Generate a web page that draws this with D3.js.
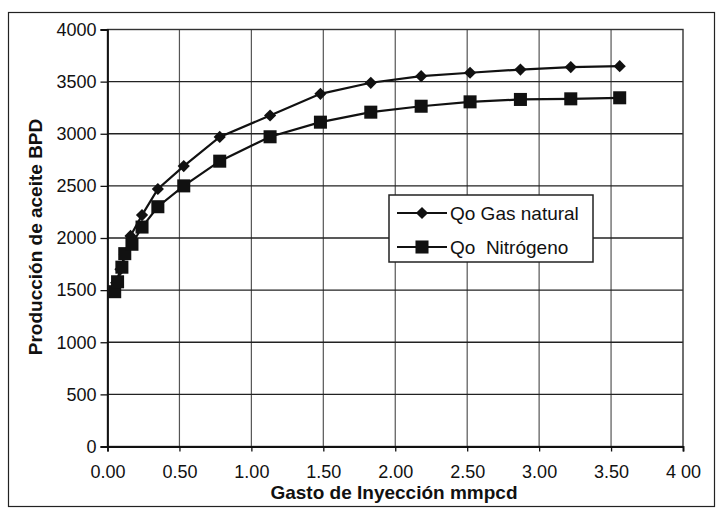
<!DOCTYPE html>
<html>
<head>
<meta charset="utf-8">
<script src="https://cdn.jsdelivr.net/npm/d3@7/dist/d3.min.js"></script>
<style>
  html, body { margin: 0; padding: 0; background: #fff; }
  svg { display: block; }
  text { font-family: "Liberation Sans", Arial, sans-serif; fill: #111; }
</style>
</head>
<body>
<svg id="chart" width="718" height="510"></svg>
<script>
// Injection rate (mmpcd) and oil production (BPD) for each lift gas
const gasX   = [0.06, 0.09, 0.12, 0.16, 0.24, 0.35, 0.53, 0.78, 1.13, 1.48, 1.83, 2.18, 2.52, 2.87, 3.22, 3.56];
const gasQo  = [1570, 1700, 1840, 2020, 2220, 2470, 2690, 2970, 3175, 3383, 3489, 3552, 3585, 3616, 3640, 3648];
const n2X    = [0.05, 0.07, 0.10, 0.12, 0.17, 0.24, 0.35, 0.53, 0.78, 1.13, 1.48, 1.83, 2.18, 2.52, 2.87, 3.22, 3.56];
const n2Qo   = [1485, 1580, 1720, 1850, 1940, 2105, 2300, 2500, 2737, 2971, 3111, 3207, 3264, 3306, 3329, 3335, 3345];
const xTicks = [0, 0.5, 1, 1.5, 2, 2.5, 3, 3.5, 4];
const xTickLabels = ["0.00", "0.50", "1.00", "1.50", "2.00", "2.50", "3.00", "3.50", "4 00"];
const yTicks = [0, 500, 1000, 1500, 2000, 2500, 3000, 3500, 4000];
const seriesNames = ["Qo Gas natural", "Qo  Nitrógeno"];

const svg = d3.select("#chart");
const plotL = 107.5, plotR = 683, plotT = 29.5, plotB = 446.5;

const x = d3.scaleLinear().domain([0, 4]).range([plotL, plotR]);
const y = d3.scaleLinear().domain([0, 4000]).range([plotB, plotT]);

// outer frame
svg.append("rect")
  .attr("x", 8.5).attr("y", 12.5).attr("width", 706).attr("height", 494)
  .attr("fill", "none").attr("stroke", "#222").attr("stroke-width", 1.2);

// gridlines
svg.append("g").selectAll("line").data(xTicks.slice(1, -1)).join("line")
  .attr("x1", d => x(d)).attr("x2", d => x(d))
  .attr("y1", plotT).attr("y2", plotB)
  .attr("stroke", "#555").attr("stroke-width", 1.2);
svg.append("g").selectAll("line").data(yTicks.slice(1, -1)).join("line")
  .attr("x1", plotL).attr("x2", plotR)
  .attr("y1", d => y(d)).attr("y2", d => y(d))
  .attr("stroke", "#222").attr("stroke-width", 1.4);

// plot border
svg.append("rect")
  .attr("x", plotL).attr("y", plotT).attr("width", plotR - plotL).attr("height", plotB - plotT)
  .attr("fill", "none").attr("stroke", "#333").attr("stroke-width", 1.4);

// axes
const xAxis = d3.axisBottom(x).tickValues(xTicks)
  .tickFormat((d, i) => xTickLabels[i]).tickSize(5).tickPadding(14);
const gx = svg.append("g").attr("transform", `translate(0,${plotB})`).call(xAxis);
const yAxis = d3.axisLeft(y).tickValues(yTicks).tickFormat(d3.format("d")).tickSize(7).tickPadding(4);
const gy = svg.append("g").attr("transform", `translate(${plotL},0)`).call(yAxis);
[gx, gy].forEach(g => {
  g.select(".domain").attr("stroke", "#111").attr("stroke-width", 1.8);
  g.selectAll(".tick line").attr("stroke", "#111").attr("stroke-width", 1.3);
  g.selectAll(".tick text").attr("font-size", 18)
    .attr("font-family", "'Liberation Sans', Arial, sans-serif").attr("fill", "#111");
});

// axis titles
svg.append("text")
  .attr("x", 394).attr("y", 499)
  .attr("text-anchor", "middle").attr("font-size", 19).attr("font-weight", "bold")
  .text("Gasto de Inyección mmpcd");
svg.append("text")
  .attr("transform", "translate(42,237) rotate(-90)")
  .attr("text-anchor", "middle").attr("font-size", 19).attr("font-weight", "bold")
  .text("Producción de aceite BPD");

// series
const line = d3.line().x(d => x(d[0])).y(d => y(d[1]));
const gasData = gasX.map((v, i) => [v, gasQo[i]]);
const n2Data = n2X.map((v, i) => [v, n2Qo[i]]);

svg.append("path").datum(gasData).attr("d", line)
  .attr("fill", "none").attr("stroke", "#111").attr("stroke-width", 2.2);
svg.append("path").datum(n2Data).attr("d", line)
  .attr("fill", "none").attr("stroke", "#111").attr("stroke-width", 2.2);

const diamond = d3.symbol().type(d3.symbolDiamond2).size(95);
const square = d3.symbol().type(d3.symbolSquare).size(170);

svg.append("g").selectAll("path").data(gasData).join("path")
  .attr("transform", d => `translate(${x(d[0])},${y(d[1])})`)
  .attr("d", diamond).attr("fill", "#111");
svg.append("g").selectAll("path").data(n2Data).join("path")
  .attr("transform", d => `translate(${x(d[0])},${y(d[1])})`)
  .attr("d", square).attr("fill", "#111");

// legend
const lg = svg.append("g").attr("transform", "translate(389,195)");
lg.append("rect").attr("width", 204).attr("height", 67)
  .attr("fill", "#fff").attr("stroke", "#222").attr("stroke-width", 1.5);
const rows = [{ name: seriesNames[0], sym: diamond, yy: 18 }, { name: seriesNames[1], sym: square, yy: 52 }];
rows.forEach(r => {
  lg.append("line").attr("x1", 8).attr("x2", 58).attr("y1", r.yy).attr("y2", r.yy)
    .attr("stroke", "#111").attr("stroke-width", 2.2);
  lg.append("path").attr("transform", `translate(33,${r.yy})`).attr("d", r.sym).attr("fill", "#111");
  lg.append("text").attr("x", 61).attr("y", r.yy + 7).attr("font-size", 19)
    .style("white-space", "pre").text(r.name);
});
</script>
</body>
</html>
